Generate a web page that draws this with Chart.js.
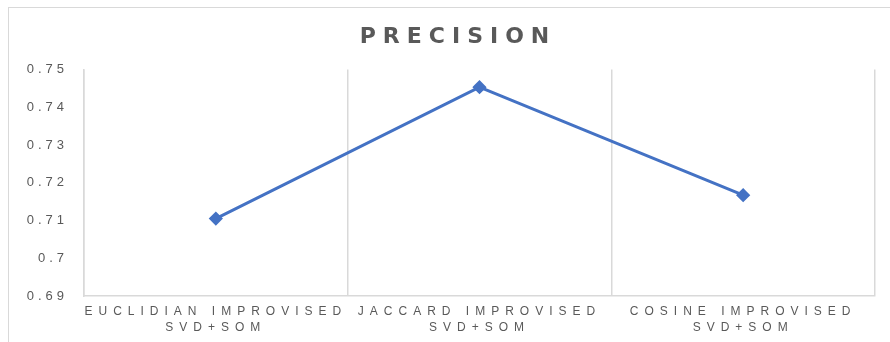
<!DOCTYPE html>
<html>
<head>
  <meta charset="UTF-8">
  <title>Precision</title>
  <script src="https://cdn.jsdelivr.net/npm/chart.js"></script>
  <style>
    body {
      margin: 0;
      background: #fff;
      overflow: hidden;
    }
    #frame {
      position: absolute;
      left: 8px;
      top: 7px;
      width: 900px;
      height: 400px;
      border: 1px solid #d9d9d9;
    }
    #wrap {
      position: absolute;
      left: 0;
      top: 0;
      width: 890px;
      height: 342px;
    }
  </style>
</head>
<body>
  <div id="frame"></div>
  <div id="wrap">
    <canvas id="precChart"></canvas>
  </div>

  <script>
    const categories = [
      ['EUCLIDIAN IMPROVISED', 'SVD+SOM'],
      ['JACCARD IMPROVISED', 'SVD+SOM'],
      ['COSINE IMPROVISED', 'SVD+SOM']
    ];
    const precision = [0.7105, 0.7453, 0.7167];
    const yMin = 0.69;
    const yMax = 0.75;
    const yStep = 0.01;

    const gray = '#595959';
    const gridGray = '#d9d9d9';
    const blue = '#4472C4';

    // canvas letterSpacing for the spaced-out office look
    function spaced(obj, fn, spacing) {
      if (!obj || obj['_sp_' + fn]) return;
      const orig = obj[fn];
      obj[fn] = function (...args) {
        const ctx = this.ctx;
        const prev = ctx.letterSpacing;
        ctx.letterSpacing = spacing;
        orig.apply(this, args);
        ctx.letterSpacing = prev;
      };
      obj['_sp_' + fn] = true;
    }

    const spacingPlugin = {
      id: 'spacing',
      beforeDraw(chart) {
        spaced(chart.titleBlock, 'draw', '7px');
        spaced(chart.scales.x, 'drawLabels', '6px');
        spaced(chart.scales.y, 'drawLabels', '4px');
        // y labels reach left of the (narrowed) axis box, don't clip them
        chart.scales.y._computeLabelArea = () => undefined;
      }
    };

    new Chart(document.getElementById('precChart'), {
      type: 'line',
      data: {
        labels: categories,
        datasets: [{
          label: 'Precision',
          data: precision,
          borderColor: blue,
          backgroundColor: blue,
          borderWidth: 3,
          pointStyle: 'rectRot',
          pointRadius: 5,
          pointHoverRadius: 5,
          tension: 0,
          fill: false
        }]
      },
      options: {
        responsive: true,
        maintainAspectRatio: false,
        animation: false,
        layout: {
          padding: { left: 41, right: 15, top: 0, bottom: 0 }
        },
        plugins: {
          legend: { display: false },
          tooltip: { enabled: false },
          title: {
            display: true,
            text: 'PRECISION',
            color: gray,
            font: { family: 'DejaVu Sans', size: 22, weight: 'bold' },
            padding: { top: 24, bottom: 19 }
          }
        },
        scales: {
          x: {
            offset: true,
            grid: {
              display: true,
              offset: true,
              color: gridGray,
              lineWidth: 1.5,
              drawTicks: false
            },
            border: { display: true, color: gridGray, width: 1.5 },
            ticks: {
              color: gray,
              font: { family: 'Liberation Sans', size: 12, lineHeight: 1.3 },
              padding: 8,
              maxRotation: 0,
              autoSkip: false
            },
            afterFit(scale) {
              scale.height = 46;
            }
          },
          y: {
            min: yMin,
            max: yMax,
            grid: { display: false, drawTicks: false },
            border: { display: true, color: gridGray, width: 1.5 },
            ticks: {
              stepSize: yStep,
              color: gray,
              font: { family: 'Liberation Sans', size: 13 },
              padding: 16,
              callback: v => String(Number(v.toFixed(2)))
            },
            afterFit(scale) {
              scale.width = 43;
            }
          }
        }
      },
      plugins: [spacingPlugin]
    });
  </script>
</body>
</html>
